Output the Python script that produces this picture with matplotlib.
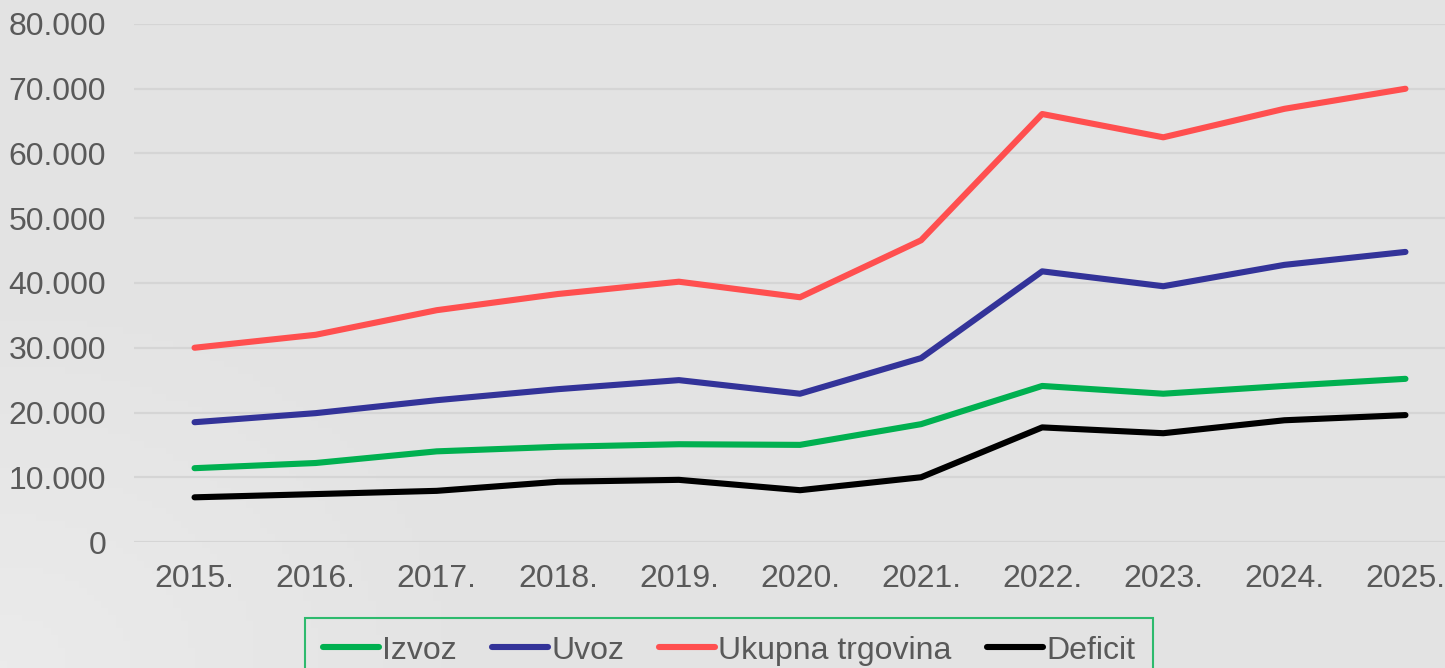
import numpy as np
import matplotlib
matplotlib.use("Agg")
import matplotlib.pyplot as plt
from matplotlib.colors import LinearSegmentedColormap

plt.rcParams['font.family'] = ['Liberation Sans', 'DejaVu Sans']

years = ["2015.", "2016.", "2017.", "2018.", "2019.", "2020.",
         "2021.", "2022.", "2023.", "2024.", "2025."]
izvoz = [11400, 12200, 14000, 14700, 15100, 15000, 18200, 24100, 22900, 24100, 25200]
uvoz = [18500, 19900, 21900, 23600, 25000, 22900, 28400, 41800, 39500, 42800, 44800]
ukupna = [30000, 32000, 35800, 38300, 40200, 37800, 46600, 66100, 62500, 66900, 70000]
deficit = [6900, 7400, 7900, 9300, 9600, 8000, 10000, 17700, 16800, 18800, 19600]

series = [
    ("Izvoz", izvoz, "#00b050"),
    ("Uvoz", uvoz, "#333399"),
    ("Ukupna trgovina", ukupna, "#ff4f4f"),
    ("Deficit", deficit, "#000000"),
]

W, H = 1445, 668
fig = plt.figure(figsize=(W / 100, H / 100), dpi=100)
fig.patch.set_facecolor("#e3e3e3")

# soft background gradient, lighter towards the bottom-left corner
bg = fig.add_axes([0, 0, 1, 1], zorder=-10)
gx, gy = np.meshgrid(np.linspace(0, 1, 200), np.linspace(0, 1, 100))
shade = np.clip(1 - np.hypot(gx / 0.35, (1 - gy) / 0.6), 0, 1)
cmap = LinearSegmentedColormap.from_list("bg", ["#e3e3e3", "#ebebeb"])
bg.imshow(shade, cmap=cmap, aspect="auto", extent=[0, 1, 0, 1], origin="upper")
bg.axis("off")

left, right, top, bottom = 134, 1466, 24, 542
ax = fig.add_axes([left / W, (H - bottom) / H, (right - left) / W, (bottom - top) / H])
ax.set_facecolor("none")

x = np.arange(len(years))
for name, vals, col in series:
    ax.plot(x, vals, color=col, lw=4.4, label=name, solid_capstyle="round",
            solid_joinstyle="round", zorder=3)

ax.set_xlim(-0.5, len(years) - 0.5)
ax.set_ylim(0, 80000)
ax.set_yticks(np.arange(0, 80001, 10000))
ax.set_yticklabels(["0" if v == 0 else f"{v // 1000}.000" for v in range(0, 80001, 10000)])
ax.set_xticks(x)
ax.set_xticklabels(years)
ax.grid(axis="y", color="#d5d5d5", lw=1.6)
ax.set_axisbelow(True)
for s in ax.spines.values():
    s.set_visible(False)
ax.tick_params(axis="both", length=0, labelsize=23, labelcolor="#595959")
ax.tick_params(axis="y", pad=20)
ax.tick_params(axis="x", pad=16)

leg = fig.legend(loc="upper center", bbox_to_anchor=(729 / W, (H - 618) / H),
                 ncol=4, fontsize=23, frameon=True, fancybox=False,
                 handlelength=1.75, handletextpad=0.1, columnspacing=1.1,
                 borderpad=0.55, borderaxespad=0)
leg.get_frame().set_edgecolor("#00b050")
leg.get_frame().set_linewidth(1.5)
leg.get_frame().set_facecolor("none")
for t in leg.get_texts():
    t.set_color("#595959")

fig.savefig("out.png", dpi=100, facecolor=fig.get_facecolor())
